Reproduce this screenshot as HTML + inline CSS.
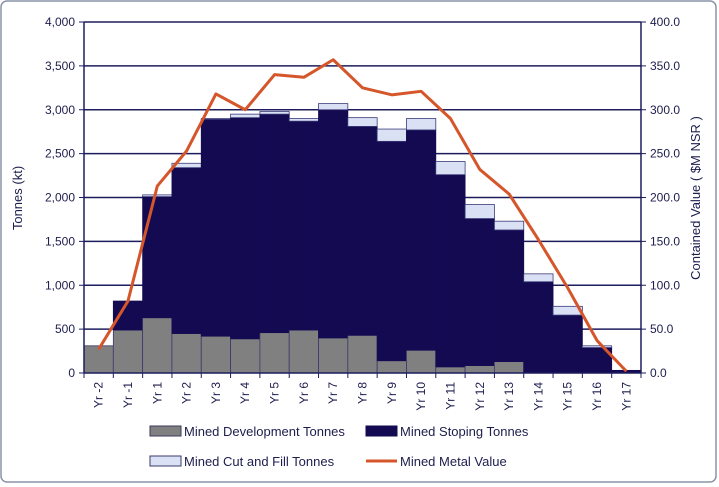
<!DOCTYPE html>
<html><head><meta charset="utf-8"><style>
html,body{margin:0;padding:0;background:#fff;}
svg{display:block;font-family:"Liberation Sans",sans-serif;}
</style></head><body>
<svg id="chart" width="719" height="487" viewBox="0 0 719 487">
<rect x="1" y="1" width="715" height="481" rx="6" fill="#fff" stroke="#8a93a8" stroke-width="1.5"/>
<g id="grid"></g><g id="bars"></g><g id="line"></g><g id="axes"></g>
<text x="22" y="198" transform="rotate(-90 22 198)" text-anchor="middle" font-size="13" fill="#1d1d4e">Tonnes (kt)</text>
<text x="700" y="198" transform="rotate(-90 700 198)" text-anchor="middle" font-size="13" fill="#1d1d4e">Contained Value ( $M NSR )</text>
<g font-size="13" fill="#1d1d4e">
<g><rect x="150" y="426" width="31" height="10" fill="#808080" stroke="#3a3a5a"/><text x="184" y="436">Mined Development Tonnes</text></g>
<g><rect x="366" y="426" width="31" height="10" fill="#140a52" stroke="#140a52"/><text x="400" y="436">Mined Stoping Tonnes</text></g>
<g><rect x="150" y="456" width="31" height="10" fill="#dbe1f4" stroke="#3a3a6a"/><text x="184" y="466">Mined Cut and Fill Tonnes</text></g>
<g><line x1="366" y1="461" x2="397" y2="461" stroke="#d4562a" stroke-width="3"/><text x="400" y="466">Mined Metal Value</text></g>
</g>
</svg>
<script>
const categories=["Yr -2","Yr -1","Yr 1","Yr 2","Yr 3","Yr 4","Yr 5","Yr 6","Yr 7","Yr 8","Yr 9","Yr 10","Yr 11","Yr 12","Yr 13","Yr 14","Yr 15","Yr 16","Yr 17"];
const devTonnes=[310,490,630,450,420,390,460,490,400,430,140,260,70,85,130,0,0,0,0];
const stopingTonnes=[0,330,1380,1890,2470,2520,2490,2380,2600,2380,2500,2510,2190,1675,1500,1040,660,290,30];
const cutFillTonnes=[0,0,20,50,10,40,30,30,70,100,140,130,150,160,100,90,100,20,0];
const metalValue=[27,82,213,253,318,300,340,337,357,325,317,321,290,232,204,152,97,37,2];
const leftTicks=[0,500,1000,1500,2000,2500,3000,3500,4000];
const rightTicks=["0.0","50.0","100.0","150.0","200.0","250.0","300.0","350.0","400.0"];
const NS="http://www.w3.org/2000/svg";
const X0=84,X1=641,Y0=373,Y1=22;
const bw=(X1-X0)/categories.length;
function xs(i){return X0+i*bw;}
function yl(v){return Y0-(v/4000)*(Y0-Y1);}
function yr(v){return Y0-(v/400)*(Y0-Y1);}
function mk(tag,attrs,parent){const e=document.createElementNS(NS,tag);for(const k in attrs)e.setAttribute(k,attrs[k]);parent.appendChild(e);return e;}
const grid=document.getElementById('grid'),bars=document.getElementById('bars'),line=document.getElementById('line'),axes=document.getElementById('axes');
leftTicks.forEach((t,i)=>{
 const y=yl(t);
 if(t>0){const g=mk('line',{x1:X0,x2:X1,y1:y,y2:y,stroke:'#1d1d5e','stroke-width':1.5},grid);
 
 }
 mk('line',{x1:X0-5,x2:X0,y1:y,y2:y,stroke:'#1d1d5e'},axes);
 mk('line',{x1:X1,x2:X1+5,y1:y,y2:y,stroke:'#1d1d5e'},axes);
 const tl=mk('text',{x:X0-9,y:y+4,'text-anchor':'end','font-size':12,fill:'#1d1d4e'},axes);tl.textContent=t.toLocaleString('en-US');
 
 
 const tr=mk('text',{x:X1+9,y:y+4,'font-size':12,fill:'#1d1d4e'},axes);tr.textContent=rightTicks[i];
 
 
});
categories.forEach((c,i)=>{
 const x=xs(i);
 let base=0;
 const d=devTonnes[i],s=stopingTonnes[i],f=cutFillTonnes[i];
 if(d>0){const r=mk('rect',{x:x,y:yl(d),width:bw,height:yl(0)-yl(d),fill:'#808080',stroke:'#3a3a6a','stroke-width':0.8},bars);
 
 }
 base=d;
 if(s>0){const r=mk('rect',{x:x,y:yl(base+s),width:bw,height:yl(base)-yl(base+s),fill:'#140a52',stroke:'#140a52','stroke-width':0.8},bars);
 
 }
 base+=s;
 if(f>0){const r=mk('rect',{x:x,y:yl(base+f),width:bw,height:yl(base)-yl(base+f),fill:'#dbe1f4',stroke:'#3a3a7a','stroke-width':0.8},bars);
 
 }
 mk('line',{x1:x,x2:x,y1:Y0,y2:Y0+5,stroke:'#1d1d5e'},axes);
 const t=mk('text',{transform:`translate(${x+bw/2+4},${Y0+9}) rotate(-90)`,'text-anchor':'end','font-size':12,fill:'#1d1d4e'},axes);
 t.textContent=c;
 
 
});
mk('line',{x1:X1,x2:X1,y1:Y0,y2:Y0+5,stroke:'#1d1d5e'},axes);
mk('line',{x1:X0,x2:X0,y1:Y1,y2:Y0,stroke:'#1d1d5e','stroke-width':1.5},axes);
mk('line',{x1:X1,x2:X1,y1:Y1,y2:Y0,stroke:'#1d1d5e','stroke-width':1.5},axes);
mk('line',{x1:X0,x2:X1,y1:Y0,y2:Y0,stroke:'#1d1d5e','stroke-width':1.5},axes);
const pts=metalValue.map((v,i)=>`${xs(i)+bw/2},${yr(v)}`).join(' ');
const pl=mk('polyline',{points:pts,fill:'none',stroke:'#d4562a','stroke-width':3,'stroke-linejoin':'round'},line);


</script>
</body></html>
